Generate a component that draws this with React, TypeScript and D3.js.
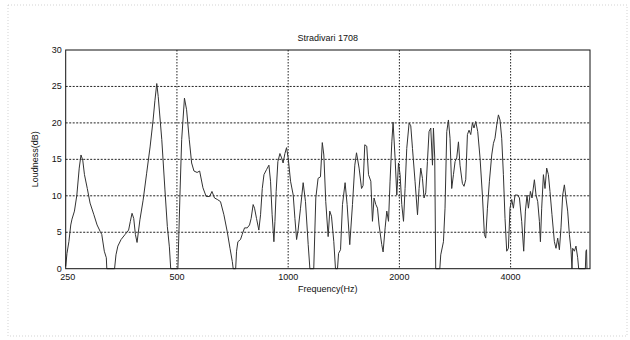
import * as d3 from 'd3'

// Frequency (Hz) and loudness (dB)
const freqHz = [
  250, 252, 255, 258, 260, 264, 268, 272, 275, 278, 281, 286, 291, 298, 304, 310, 313, 318, 322, 323,
  339, 342, 346, 353, 362, 370, 374, 378, 382, 386, 390, 397, 405, 414, 423, 431, 436, 441, 445, 455,
  464, 471, 477, 481, 503, 510, 515, 524, 531, 540, 548, 556, 567, 576, 588, 600, 613, 622, 632, 643,
  656, 670, 684, 696, 706, 710, 721, 725, 731, 743, 751, 762, 775, 786, 794, 804, 811, 821, 833, 842,
  851, 860, 874, 887, 896, 905, 915, 921, 928, 938, 950, 960, 969, 980, 990, 1000, 1015, 1032, 1043, 1054,
  1064, 1080, 1098, 1114, 1133, 1145, 1173, 1188, 1205, 1223, 1237, 1249, 1264, 1283, 1296, 1310, 1329, 1343, 1360, 1369,
  1386, 1403, 1426, 1444, 1468, 1493, 1515, 1531, 1556, 1580, 1595, 1612, 1632, 1650, 1674, 1691, 1708, 1727, 1745, 1762,
  1792, 1807, 1830, 1849, 1869, 1887, 1908, 1923, 1947, 1968, 1989, 2009, 2030, 2052, 2072, 2094, 2125, 2147, 2170, 2205,
  2239, 2261, 2285, 2309, 2332, 2357, 2382, 2406, 2432, 2458, 2473, 2493, 2508, 2573, 2588, 2632, 2658, 2687, 2715, 2742,
  2771, 2801, 2830, 2859, 2890, 2918, 2962, 2992, 3024, 3056, 3087, 3120, 3153, 3184, 3218, 3259, 3306, 3355, 3397, 3425,
  3462, 3505, 3556, 3594, 3629, 3668, 3707, 3744, 3784, 3824, 3863, 3904, 3945, 3985, 4028, 4070, 4111, 4181, 4226, 4286,
  4340, 4386, 4430, 4469, 4525, 4570, 4639, 4686, 4736, 4786, 4816, 4855, 4907, 4956, 5008, 5062, 5112, 5176, 5254, 5307,
  5364, 5421, 5475, 5533, 5592, 5648, 5708, 5769, 5827, 5863, 5889, 5952, 6011, 6075, 6113, 6373, 6397, 6420, 6437,
]

const loudnessDb = [
  0.3, 2.1, 3.7, 6.0, 6.8, 7.9, 10.1, 13.8, 15.6, 14.9, 12.9, 11.0, 9.0, 7.4, 6.0, 5.1, 4.7, 2.4, 1.5, 0,
  0, 1.9, 3.1, 4.0, 4.7, 5.3, 6.5, 7.6, 6.9, 4.7, 3.6, 6.7, 9.4, 13.1, 16.7, 20.4, 23.1, 25.4, 23.6, 17.7,
  10.8, 5.8, 3.0, 0, 0, 10.8, 17.7, 23.4, 21.8, 17.7, 14.5, 13.4, 13.2, 13.4, 11.1, 9.9, 9.9, 10.6, 9.7, 9.5,
  9.2, 7.4, 5.1, 2.8, 1.0, 0, 0, 2.4, 3.7, 4.0, 4.7, 5.6, 5.6, 6.0, 6.9, 8.8, 8.3, 6.9, 5.3, 7.4,
  11.0, 12.9, 13.6, 14.2, 12.0, 7.4, 3.7, 6.5, 10.6, 14.7, 15.8, 15.2, 14.5, 15.8, 16.6, 15.2, 12.0, 10.1, 6.9, 4.0,
  5.3, 8.3, 11.8, 9.2, 3.3, 0, 0, 9.7, 12.4, 12.6, 17.3, 15.6, 9.2, 4.4, 7.9, 7.2, 3.7, 0, 0, 2.1,
  2.6, 8.8, 11.8, 8.8, 3.3, 8.8, 14.2, 15.9, 13.8, 11.0, 11.4, 17.0, 16.8, 12.9, 12.0, 6.5, 9.7, 8.8, 8.3, 6.0,
  3.3, 2.3, 5.6, 7.9, 6.5, 12.0, 17.4, 20.1, 15.2, 10.1, 14.5, 12.9, 8.8, 6.5, 11.0, 16.5, 20.0, 19.6, 16.5, 12.0,
  7.4, 11.0, 13.8, 12.4, 9.7, 10.4, 14.7, 18.8, 19.3, 14.2, 19.3, 15.2, 0, 0, 1.9, 3.7, 8.3, 18.8, 20.4, 17.9,
  11.0, 12.9, 14.7, 15.2, 17.4, 14.2, 11.7, 11.3, 12.2, 18.4, 19.0, 18.4, 20.0, 19.3, 20.2, 18.8, 15.2, 10.1, 4.7, 4.2,
  8.3, 12.0, 15.6, 17.2, 17.9, 19.7, 21.1, 20.4, 17.9, 12.9, 6.9, 2.4, 2.8, 8.3, 9.5, 8.3, 10.1, 10.1, 9.7, 6.5,
  2.4, 7.9, 10.1, 8.3, 10.6, 9.7, 12.2, 10.1, 9.2, 6.5, 3.7, 8.3, 12.9, 11.0, 13.8, 12.9, 10.6, 7.4, 3.7, 2.8,
  4.2, 2.6, 5.6, 10.1, 11.5, 9.7, 7.9, 4.7, 2.6, 0, 2.8, 2.4, 3.1, 1.5, 0, 0, 2.4, 2.6, 0,
]

const xTicks = [250, 500, 1000, 2000, 4000]
const yTicks = [0, 5, 10, 15, 20, 25, 30]

const W = 630
const H = 340
const left = 65.7
const right = 590
const top = 50
const bottom = 268.7
const font = 'Arial, "Liberation Sans", sans-serif'

export default function App() {
  const x = d3.scaleLog().domain([250, 6560]).range([left, right])
  const y = d3.scaleLinear().domain([0, 30]).range([bottom, top])

  const points = freqHz.map((f, i) => [f, loudnessDb[i]] as [number, number])
  const line = d3.line<[number, number]>()
    .x(d => x(d[0]))
    .y(d => y(d[1]))

  return (
    <svg
      width={W}
      height={H}
      style={{ position: 'absolute', left: 0, top: 0, background: '#fff' }}
      fontFamily={font}
    >
      {/* faint scan border */}
      <rect x={8} y={5} width={619} height={331} fill="none" stroke="#c8c8c8" strokeWidth={0.8} strokeDasharray="1,2" />

      {/* grid */}
      {yTicks.filter(t => t > 0 && t < 30).map(t => (
        <line key={'gy' + t} x1={left} x2={right} y1={y(t)} y2={y(t)}
          stroke="#222" strokeWidth={1} strokeDasharray="2,1.5" />
      ))}
      {xTicks.filter(t => t > 250).map(t => (
        <line key={'gx' + t} x1={x(t)} x2={x(t)} y1={top} y2={bottom}
          stroke="#222" strokeWidth={1} strokeDasharray="1.5,1.5" />
      ))}

      {/* data */}
      <path d={line(points) ?? ''} fill="none" stroke="#333" strokeWidth={1} strokeLinejoin="round" />

      {/* axes box */}
      <rect x={left} y={top} width={right - left} height={bottom - top} fill="none" stroke="#111" strokeWidth={1} />

      {/* y tick labels */}
      {yTicks.map(t => (
        <text key={'ty' + t} x={left - 4} y={y(t) + 3} textAnchor="end" fontSize={9} fill="#111">
          {t}
        </text>
      ))}
      {/* x tick labels */}
      {xTicks.map(t => (
        <text key={'tx' + t} x={x(t) + (t === 250 ? 2 : 0)} y={bottom + 11} textAnchor="middle" fontSize={9} fill="#111">
          {t}
        </text>
      ))}

      <text x={(left + right) / 2} y={41} textAnchor="middle" fontSize={9} fill="#111">Stradivari 1708</text>
      <text x={(left + right) / 2} y={292} textAnchor="middle" fontSize={9} fill="#111">Frequency(Hz)</text>
      <text transform={`translate(38,${(top + bottom) / 2}) rotate(-90)`} textAnchor="middle" fontSize={9} fill="#111">
        Loudness(dB)
      </text>
    </svg>
  )
}
